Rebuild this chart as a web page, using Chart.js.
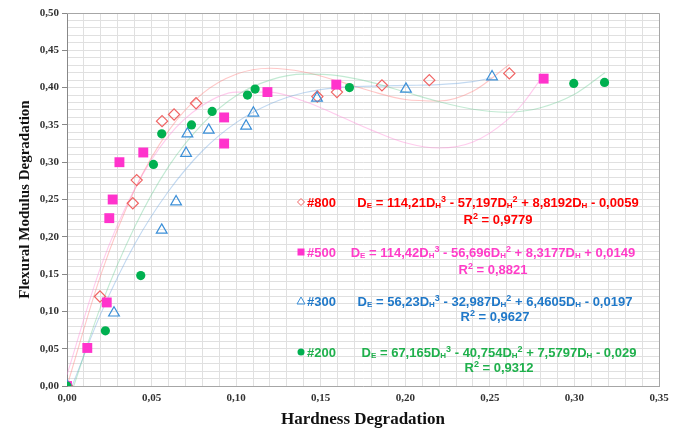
<!DOCTYPE html>
<html>
<head>
<meta charset="utf-8">
<script src="https://cdn.jsdelivr.net/npm/chart.js@4.4.0/dist/chart.umd.min.js"></script>
<style>
  html, body { margin: 0; background: #fff; }
  #wrap { width: 675px; height: 430px; }
</style>
</head>
<body>
<div id="wrap"><canvas id="grafico"></canvas></div>
<script>
// --- DATA ---
const xTickLabels = ['0,00', '0,05', '0,10', '0,15', '0,20', '0,25', '0,30', '0,35'];
const yTickLabels = ['0,00', '0,05', '0,10', '0,15', '0,20', '0,25', '0,30', '0,35', '0,40', '0,45', '0,50'];

const seriesNames = ['#800', '#500', '#300', '#200'];

// measured points: hardness degradation (x) / flexural modulus degradation (y)
const h800 = [0, 0.0195, 0.0389, 0.0412, 0.0562, 0.0633, 0.0763, 0.148, 0.1596, 0.1862, 0.2142, 0.2615];
const e800 = [0, 0.120, 0.245, 0.276, 0.355, 0.364, 0.379, 0.388, 0.394, 0.403, 0.410, 0.419];
const h500 = [0, 0.012, 0.0235, 0.025, 0.027, 0.031, 0.0451, 0.0929, 0.0929, 0.1185, 0.1592, 0.2818];
const e500 = [0, 0.051, 0.112, 0.225, 0.250, 0.300, 0.313, 0.360, 0.325, 0.394, 0.404, 0.412];
const h300 = [0, 0.0278, 0.056, 0.0645, 0.0704, 0.0712, 0.0838, 0.1059, 0.1102, 0.1478, 0.2004, 0.2513];
const e300 = [0, 0.098, 0.209, 0.247, 0.312, 0.338, 0.343, 0.3485, 0.366, 0.386, 0.398, 0.4146];
const h200 = [0, 0.0227, 0.0436, 0.0511, 0.056, 0.0736, 0.0858, 0.1067, 0.1112, 0.167, 0.2996, 0.3178];
const e200 = [0, 0.074, 0.148, 0.297, 0.338, 0.350, 0.368, 0.390, 0.398, 0.400, 0.4056, 0.407];

// trendlines
const fitX800 = [0, 0.02, 0.04, 0.06, 0.08, 0.10, 0.12, 0.14, 0.16, 0.18, 0.20, 0.22, 0.24, 0.2615];
const fitY800 = [0, 0.149, 0.263, 0.342, 0.392, 0.418, 0.426, 0.421, 0.409, 0.395, 0.384, 0.382, 0.395, 0.431];
const fitX500 = [0, 0.02, 0.04, 0.06, 0.08, 0.10, 0.12, 0.14, 0.16, 0.18, 0.20, 0.22, 0.24, 0.26, 0.27, 0.282];
const fitY500 = [0.015, 0.160, 0.264, 0.335, 0.376, 0.394, 0.394, 0.382, 0.363, 0.343, 0.326, 0.319, 0.327, 0.356, 0.380, 0.418];
const fitX300 = [0.003, 0.02, 0.04, 0.06, 0.08, 0.10, 0.12, 0.14, 0.16, 0.18, 0.20, 0.22, 0.24, 0.251];
const fitY300 = [0, 0.097, 0.190, 0.261, 0.315, 0.353, 0.378, 0.393, 0.400, 0.402, 0.403, 0.404, 0.408, 0.413];
const fitX200 = [0.004, 0.02, 0.04, 0.06, 0.08, 0.10, 0.12, 0.14, 0.16, 0.18, 0.20, 0.22, 0.24, 0.26, 0.28, 0.30, 0.318];
const fitY200 = [0, 0.107, 0.213, 0.294, 0.351, 0.389, 0.410, 0.418, 0.416, 0.407, 0.394, 0.381, 0.371, 0.367, 0.373, 0.391, 0.420];

// equation texts: [text, kind] kind n = normal, b = subscript, p = superscript
const eq800 = [['D','n'],['E','b'],[' = 114,21D','n'],['H','b'],['3','p'],[' - 57,197D','n'],['H','b'],['2','p'],[' + 8,8192D','n'],['H','b'],[' - 0,0059','n']];
const eq500 = [['D','n'],['E','b'],[' = 114,42D','n'],['H','b'],['3','p'],[' - 56,696D','n'],['H','b'],['2','p'],[' + 8,3177D','n'],['H','b'],[' + 0,0149','n']];
const eq300 = [['D','n'],['E','b'],[' = 56,23D','n'],['H','b'],['3','p'],[' - 32,987D','n'],['H','b'],['2','p'],[' + 6,4605D','n'],['H','b'],[' - 0,0197','n']];
const eq200 = [['D','n'],['E','b'],[' = 67,165D','n'],['H','b'],['3','p'],[' - 40,754D','n'],['H','b'],['2','p'],[' + 7,5797D','n'],['H','b'],[' - 0,029','n']];
const r2Values = ['0,9779', '0,8821', '0,9627', '0,9312'];

const pares = (xs, ys) => xs.map((x, i) => ({ x: x, y: ys[i] }));

// --- ANNOTATIONS (legend labels + equations) ---
const anotacoes = [
  { eq: eq800, cor: '#ff0000', mark: 'diamond', mcor: '#f06464', y: 202, cx: 498, ry: 219 },
  { eq: eq500, cor: '#ff3cc8', mark: 'square', mcor: '#ff33cc', y: 252, cx: 493, ry: 269 },
  { eq: eq300, cor: '#1f78c8', mark: 'triangle', mcor: '#3b8fd8', y: 301, cx: 495, ry: 316 },
  { eq: eq200, cor: '#1fb04c', mark: 'circle', mcor: '#00b050', y: 352, cx: 499, ry: 367 }
];

function desenhaRico(ctx, segs, cx, cy, size) {
  const fam = '"Liberation Sans", Arial, sans-serif';
  const tam = { n: size, b: Math.round(size * 0.58), p: Math.round(size * 0.7) };
  const fonte = k => 'bold ' + tam[k] + 'px ' + fam;
  let w = 0;
  segs.forEach(s => { ctx.font = fonte(s[1]); w += ctx.measureText(s[0]).width; });
  let x = cx - w / 2;
  const base = cy + size * 0.36;
  segs.forEach(s => {
    ctx.font = fonte(s[1]);
    let dy = 0;
    if (s[1] === 'b') dy = size * 0.1;
    if (s[1] === 'p') dy = -size * 0.34;
    ctx.fillText(s[0], x, base + dy);
    x += ctx.measureText(s[0]).width;
  });
}

const pluginTextos = {
  id: 'textos',
  afterDraw(chart) {
    const ctx = chart.ctx;
    ctx.save();
    ctx.textAlign = 'left';
    ctx.textBaseline = 'alphabetic';
    anotacoes.forEach((a, i) => {
      // legend marker
      const mx = 301, my = a.y;
      ctx.lineWidth = 1;
      ctx.strokeStyle = a.mcor;
      ctx.fillStyle = a.mcor;
      ctx.beginPath();
      if (a.mark === 'diamond') {
        ctx.moveTo(mx - 3.5, my); ctx.lineTo(mx, my - 3.5); ctx.lineTo(mx + 3.5, my); ctx.lineTo(mx, my + 3.5); ctx.closePath(); ctx.stroke();
      } else if (a.mark === 'square') {
        ctx.rect(mx - 3.5, my - 3.5, 7, 7); ctx.fill();
      } else if (a.mark === 'triangle') {
        ctx.moveTo(mx - 4, my + 3); ctx.lineTo(mx, my - 4); ctx.lineTo(mx + 4, my + 3); ctx.closePath(); ctx.stroke();
      } else {
        ctx.arc(mx, my, 3.5, 0, Math.PI * 2); ctx.fill();
      }
      ctx.fillStyle = a.cor;
      ctx.font = 'bold 13px "Liberation Sans", Arial, sans-serif';
      ctx.fillText(seriesNames[i], 307, a.y + 4.7);
      desenhaRico(ctx, a.eq, a.cx, a.y, 13);
      desenhaRico(ctx, [['R','n'], ['2','p'], [' = ' + r2Values[i], 'n']], a.cx, a.ry, 13);
    });
    // plot frame top/right
    const ca = chart.chartArea;
    ctx.strokeStyle = '#a6a6a6';
    ctx.lineWidth = 1;
    ctx.beginPath();
    ctx.moveTo(ca.left, ca.top + 0.5); ctx.lineTo(ca.right + 0.5, ca.top + 0.5); ctx.lineTo(ca.right + 0.5, ca.bottom);
    ctx.stroke();
    ctx.restore();
  }
};

// --- CHART ---
const marcador = (nome, xs, ys, estilo, cor, fundo, raio, borda) => ({
  label: nome,
  data: pares(xs, ys),
  showLine: false,
  pointStyle: estilo,
  pointRadius: raio,
  pointBorderWidth: borda,
  pointBorderColor: cor,
  pointBackgroundColor: fundo
});
const tendencia = (xs, ys, cor) => ({
  label: 'fit',
  data: pares(xs, ys),
  showLine: true,
  borderColor: cor,
  borderWidth: 1.1,
  pointRadius: 0,
  fill: false,
  cubicInterpolationMode: 'monotone'
});

new Chart(document.getElementById('grafico'), {
  type: 'scatter',
  data: {
    datasets: [
      marcador('#200', h200, e200, 'circle', '#00b050', '#00b050', 4.6, 0),
      marcador('#300', h300, e300, 'triangle', '#3b8fd8', 'rgba(0,0,0,0)', 6.2, 1.2),
      marcador('#500', h500, e500, 'rect', '#ff33cc', '#ff33cc', 7, 0),
      marcador('#800', h800, e800, 'rectRot', '#f06464', 'rgba(0,0,0,0)', 5.6, 1.2),
      tendencia(fitX200, fitY200, 'rgba(110, 205, 150, 0.42)'),
      tendencia(fitX300, fitY300, 'rgba(120, 170, 225, 0.45)'),
      tendencia(fitX500, fitY500, 'rgba(255, 140, 215, 0.45)'),
      tendencia(fitX800, fitY800, 'rgba(255, 130, 130, 0.45)')
    ]
  },
  options: {
    responsive: true,
    maintainAspectRatio: false,
    animation: false,
    layout: { padding: { top: 13, right: 16, left: 0, bottom: 0 } },
    plugins: {
      legend: { display: false },
      tooltip: { enabled: false }
    },
    scales: {
      x: {
        type: 'linear',
        min: 0,
        max: 0.35,
        afterFit: s => { s.height = 44; },
        ticks: {
          stepSize: 0.01,
          autoSkip: false,
          maxRotation: 0,
          padding: 1,
          color: '#333',
          font: { family: '"Liberation Serif", "Times New Roman", serif', size: 11, weight: 'bold' },
          callback: (v, i) => (i % 5 === 0 ? xTickLabels[i / 5] : '')
        },
        grid: {
          color: '#e0e0e0',
          tickLength: 5,
          tickColor: 'rgba(0,0,0,0)'
        },
        border: { color: '#a6a6a6' },
        title: {
          display: true,
          text: 'Hardness Degradation',
          color: '#111',
          padding: { top: 10, bottom: 0 },
          font: { family: '"Liberation Serif", "Times New Roman", serif', size: 17, weight: 'bold' }
        }
      },
      y: {
        min: 0,
        max: 0.5,
        afterFit: s => { s.width = 67; },
        ticks: {
          stepSize: 0.01,
          autoSkip: false,
          padding: 3,
          color: '#333',
          font: { family: '"Liberation Serif", "Times New Roman", serif', size: 11, weight: 'bold' },
          callback: (v, i) => (i % 5 === 0 ? yTickLabels[i / 5] : '')
        },
        grid: {
          color: '#e0e0e0',
          tickLength: 5,
          tickColor: c => (c.index % 5 === 0 ? '#888' : 'rgba(0,0,0,0)')
        },
        border: { color: '#888' },
        title: {
          display: true,
          text: 'Flexural Modulus Degradation',
          color: '#111',
          padding: { top: 16, bottom: 0 },
          font: { family: '"Liberation Serif", "Times New Roman", serif', size: 15, weight: 'bold' }
        }
      }
    }
  },
  plugins: [pluginTextos]
});
</script>
</body>
</html>
